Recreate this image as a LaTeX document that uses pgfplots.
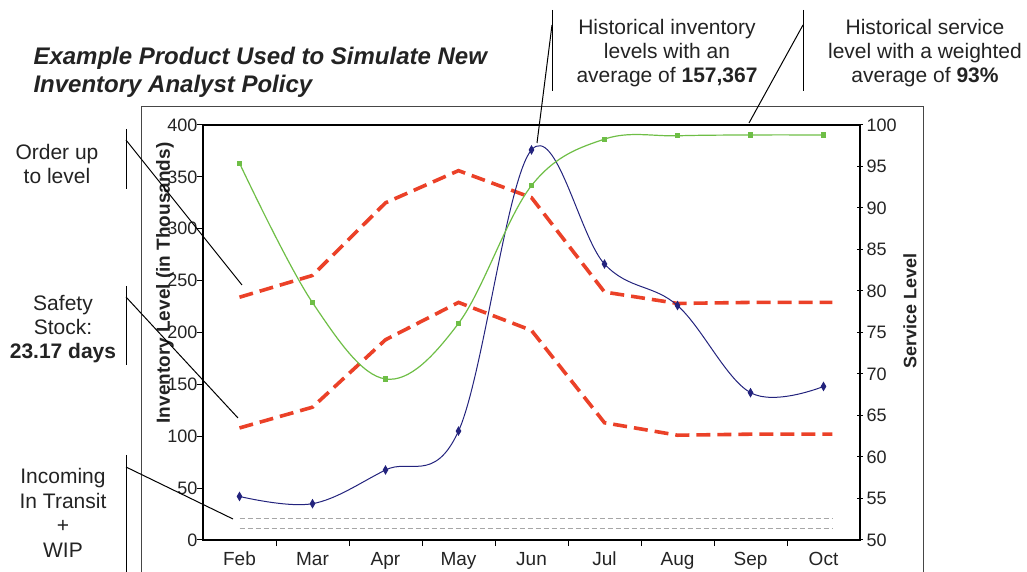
\documentclass[border=0pt]{standalone}
\usepackage{pgfplots}
\pgfplotsset{compat=1.18}
\usepackage{fontspec}
\setmainfont{Liberation Sans}
\definecolor{invblue}{RGB}{35,35,125}
\definecolor{svcgreen}{RGB}{110,190,70}
\definecolor{ordred}{RGB}{235,65,40}
\definecolor{frm}{RGB}{70,70,70}
\definecolor{txt}{RGB}{35,35,35}
\begin{document}
\begin{tikzpicture}[x=1pt,y=1pt]
\useasboundingbox (0,0) rectangle (1027,572);
\draw[frm, line width=1pt] (141,0) -- (141,465) -- (923,465) -- (923,0);
\pgfplotsset{
  myaxis/.style={at={(203pt,32pt)}, anchor=south west, scale only axis,
    width=657pt, height=415pt, xmin=0, xmax=9,
    ticklabel style={font=\fontsize{18}{20}\selectfont, text=txt},
    /pgf/number format/assume math mode=true,
    major tick length=6pt,
    tick style={black, line width=1pt},
    axis line style={line width=1.3pt},
    clip=false}
}
\begin{axis}[myaxis, ymin=0, ymax=400, ytick={0,50,...,400},
  xtick={1,...,8}, xticklabels={},
  extra x ticks={0.5,1.5,...,8.5},
  extra x tick labels={Feb,Mar,Apr,May,Jun,Jul,Aug,Sep,Oct},
  extra x tick style={major tick length=0pt, xticklabel style={anchor=base, yshift=-26pt, font=\fontsize{19}{20}\selectfont, text=txt}},
  yticklabel style={xshift=4pt},
  tick pos=left, tick align=outside]
\addplot[gray!70, line width=0.8pt, dash pattern=on 5pt off 3pt] coordinates {(0.5,21) (8.62,21)};
\addplot[gray!70, line width=0.8pt, dash pattern=on 5pt off 3pt] coordinates {(0.5,11.5) (8.62,11.5)};
\addplot[ordred, line width=3.6pt, dash pattern=on 14pt off 7pt] coordinates {
(0.5,234) (1.5,255) (2.5,325) (3.5,356) (4.5,330) (5.5,239) (6.5,228) (7.5,229) (8.62,229)};
\addplot[ordred, line width=3.6pt, dash pattern=on 14pt off 7pt] coordinates {
(0.5,108) (1.5,128) (2.5,193) (3.5,229) (4.5,202) (5.5,113) (6.5,101) (7.5,102) (8.62,102)};
\addplot[invblue, line width=1pt, smooth, tension=0.6, mark=diamond*, mark size=3pt,
  mark options={yscale=1.3}] coordinates {
(0.5,42) (1.5,35) (2.5,67.5) (3.5,105) (4.5,376) (5.5,266) (6.5,226) (7.5,142) (8.5,148)};
\end{axis}
\begin{axis}[myaxis, ymin=50, ymax=100, ytick={50,55,...,100},
  axis x line=none, axis y line*=right, tick align=center]
\addplot[svcgreen, line width=1.2pt, smooth, tension=0.6, mark=square*, mark size=2pt] coordinates {
(0.5,95.4) (1.5,78.6) (2.5,69.4) (3.5,76.1) (4.5,92.7) (5.5,98.3) (6.5,98.7) (7.5,98.8) (8.5,98.8)};
\end{axis}
% axis labels
\node[rotate=90, font=\fontsize{19}{22}\selectfont\bfseries, text=txt] at (165,289) {Inventory Level (in Thousands)};
\node[rotate=90, font=\fontsize{18}{22}\selectfont\bfseries, text=txt] at (910,261) {Service Level};
% title
\node[anchor=base west, font=\fontsize{24}{28}\selectfont\bfseries\itshape, text=txt] at (30,507) {Example Product Used to Simulate New};
\node[anchor=base west, font=\fontsize{24}{28}\selectfont\bfseries\itshape, text=txt] at (30,479) {Inventory Analyst Policy};
% annotations
\node[align=center, font=\fontsize{21}{24}\selectfont, text=txt] at (57,408) {Order up\\to level};
\node[align=center, font=\fontsize{21}{24}\selectfont, text=txt] at (63,243) {Safety\\Stock:\\\textbf{23.17 days}};
\node[align=center, font=\fontsize{21}{24.5}\selectfont, text=txt] at (63,59) {Incoming\\In Transit\\+\\WIP};
\node[align=center, font=\fontsize{21}{24}\selectfont, text=txt] at (667,519) {Historical inventory\\levels with an\\average of \textbf{157,367}};
\node[align=center, font=\fontsize{21}{24}\selectfont, text=txt] at (925,519) {Historical service\\level with a weighted\\average of \textbf{93\%}};
\begin{scope}[line width=1pt, black]
\draw (126,443) -- (126,383);
\draw (126,432) -- (242,287);
\draw (126,286) -- (126,207);
\draw (126,275) -- (238,154);
\draw (126,117) -- (126,0);
\draw (126,105) -- (233,53);
\draw (552,562) -- (552,481);
\draw (552,547) -- (537,429);
\draw (803,562) -- (803,481);
\draw (803,547) -- (749,449);
\end{scope}
\end{tikzpicture}
\end{document}
